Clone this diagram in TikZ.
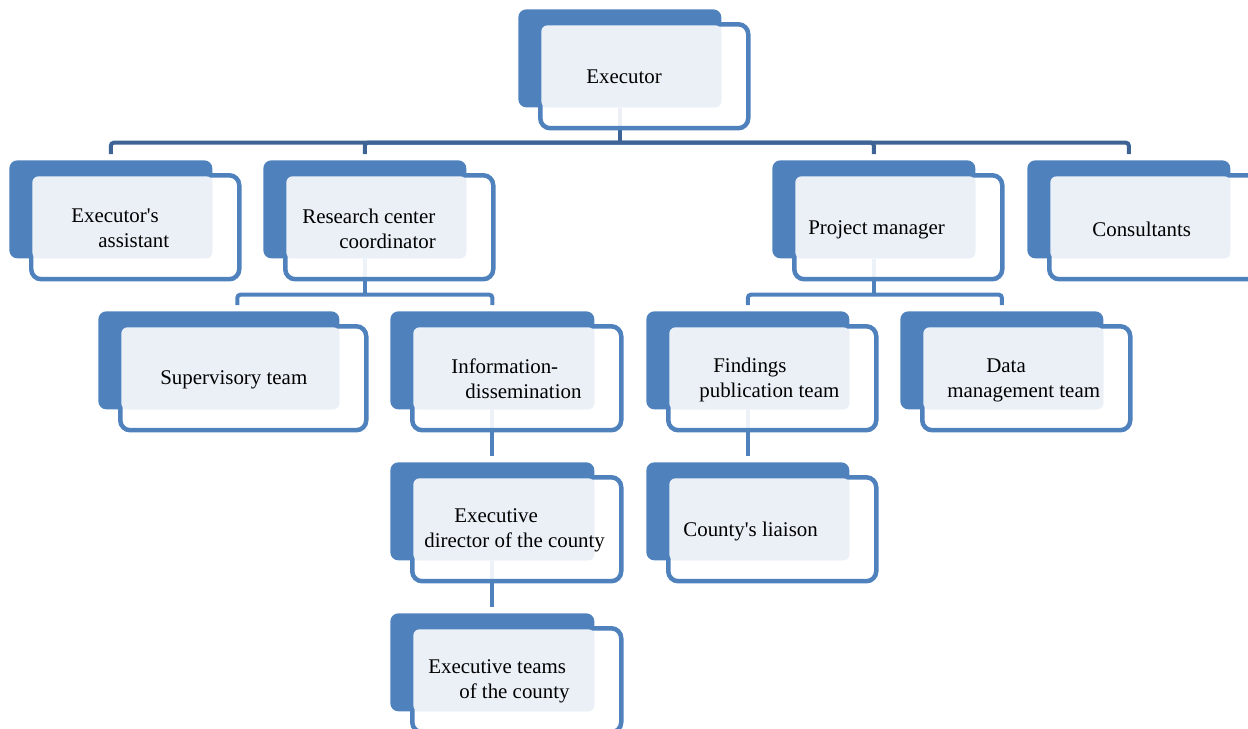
\documentclass[tikz,border=0pt]{standalone}
\usepackage{fontspec}
\setmainfont{Liberation Serif}[Ligatures=TeXOff]
\usetikzlibrary{positioning, backgrounds}
\definecolor{unitblue}{RGB}{79,129,189}
\definecolor{busblue}{RGB}{62,100,150}
\definecolor{panelgray}{RGB}{235,240,247}

% one unit of the chart: back block, frame and text panel
\newcommand{\orgunit}[4]{%
  \node[backbox, minimum width=#4*0.02cm, anchor=north west] (#1) at (#2,#3) {};
  \node[framebox, minimum width=(#4+5)*0.02cm, anchor=north west] (#1-frame) at ([shift={(20,13)}]#1.north west) {};
  \node[panelbox, minimum width=(#4-23)*0.02cm, anchor=north west] (#1-panel) at ([shift={(23,16)}]#1.north west) {};
}

\begin{document}
\begin{tikzpicture}[x=0.02cm, y=-0.02cm,
    backbox/.style={rectangle, rounded corners=0.16cm, fill=unitblue, minimum height=1.96cm, inner sep=0pt},
    framebox/.style={rectangle, rounded corners=0.2cm, draw=unitblue, line width=0.09cm, fill=white, fill opacity=0.9, draw opacity=1, minimum height=2.08cm, inner sep=0pt},
    panelbox/.style={rectangle, rounded corners=0.12cm, fill=panelgray, minimum height=1.64cm, inner sep=0pt},
    lbl/.style={anchor=west, inner sep=0pt, align=left, font=\fontsize{11.9}{14.2}\selectfont},
    bus/.style={draw=unitblue, line width=0.08cm, rounded corners=0.06cm, shorten >=0.12cm},
    topbus/.style={bus, draw=busblue}]
    \useasboundingbox (0,0) rectangle (1248,728);

    % Top level
    \orgunit{exec}{518}{9}{203}

    % Second row
    \orgunit{asst}{9}{160}{203}
    \orgunit{rcc}{263}{160}{203}
    \orgunit{pm}{772}{160}{203}
    \orgunit{cons}{1027}{160}{203}

    % Third row
    \orgunit{sup}{98}{311}{241}
    \orgunit{info}{390}{311}{204}
    \orgunit{find}{646}{311}{203}
    \orgunit{data}{900}{311}{203}

    % Lower rows
    \orgunit{dir}{390}{462}{204}
    \orgunit{liaison}{646}{462}{203}
    \orgunit{teams}{390}{613}{204}

    % Texts
    \node[lbl] (exec-text) at (586,77) {Executor};
    \node[lbl] (asst-text) at (71,228.5) {Executor's\\\hspace*{0.54cm}assistant};
    \node[lbl] (rcc-text) at (302,228.5) {Research center\\\hspace*{0.74cm}coordinator};
    \node[lbl] (pm-text) at (808,229.5) {Project manager};
    \node[lbl] (cons-text) at (1092,229) {Consultants};
    \node[lbl] (sup-text) at (160,380) {Supervisory team};
    \node[lbl] (info-text) at (451,379) {Information-\\\hspace*{0.28cm}dissemination};
    \node[lbl] (find-text) at (699,380) {\hspace*{0.28cm}Findings\\publication team};
    \node[lbl] (data-text) at (947,380) {\hspace*{0.78cm}Data\\management team};
    \node[lbl] (dir-text) at (424,530) {\hspace*{0.6cm}Executive\\director of the county};
    \node[lbl] (liaison-text) at (683,531) {County's liaison};
    \node[lbl] (teams-text) at (428,681) {Executive teams\\\hspace*{0.62cm}of the county};

    % Connections
    \begin{pgfonlayer}{background}
    \draw[topbus, shorten >=0pt] (exec.south) -- ++(0,35) coordinate (tb);
    \draw[topbus] (tb) -| (asst);
    \draw[topbus] (tb) -| (rcc);
    \draw[topbus] (tb) -| (pm);
    \draw[topbus] (tb) -| (cons);

    \draw[bus, shorten >=0pt] (rcc.south) -- ++(0,36) coordinate (rb);
    \draw[bus] (rb) -| ([xshift=0.37cm]sup.north);
    \draw[bus] (rb) -| (info);

    \draw[bus, shorten >=0pt] (pm.south) -- ++(0,36) coordinate (pb);
    \draw[bus] (pb) -| (find);
    \draw[bus] (pb) -| (data);

    \draw[bus] (info.south) -- (dir);
    \draw[bus] (dir.south) -- (teams);
    \draw[bus] (find.south) -- (liaison);
    \end{pgfonlayer}
\end{tikzpicture}
\end{document}
